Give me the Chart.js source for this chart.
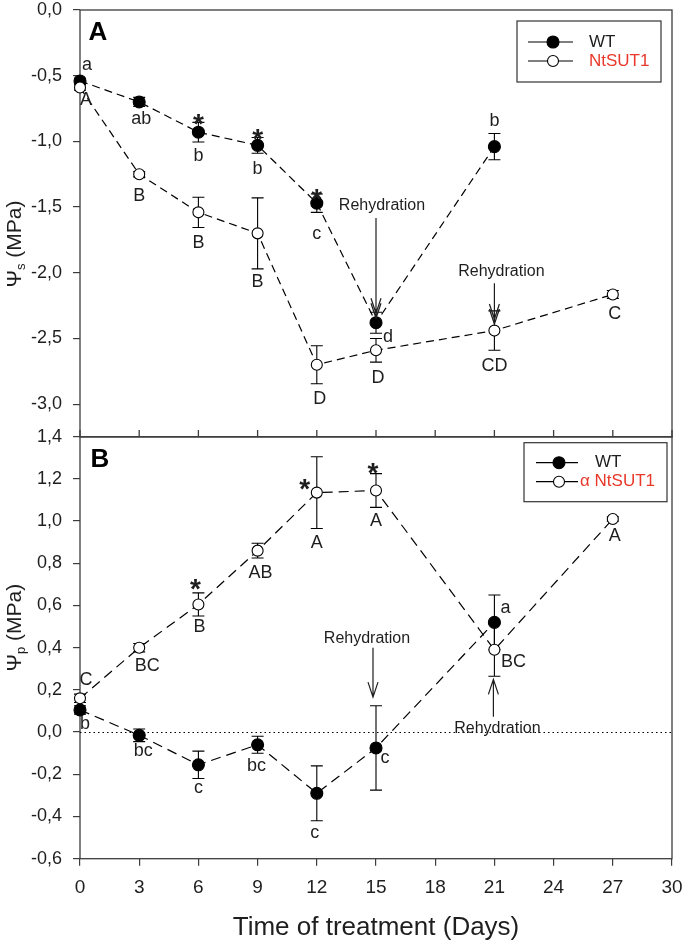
<!DOCTYPE html>
<html>
<head>
<meta charset="utf-8">
<script src="https://cdn.jsdelivr.net/npm/chart.js@4.4.1/dist/chart.umd.min.js"></script>
<style>
    body { margin: 0; background: #fff; }
    #wrap { position: relative; width: 685px; height: 949px; }
    canvas { position: absolute; left: 0; }
    #chartA { top: 0; }
    #chartB { top: 420px; }
</style>
</head>
<body>
<div id="wrap">
    <canvas id="chartA" width="685" height="447"></canvas>
    <canvas id="chartB" width="685" height="529"></canvas>
</div>
<script>
// sampling days and x ticks
const days = [0, 3, 6, 9, 12, 15, 21, 27];
const xTickValues = [0, 3, 6, 9, 12, 15, 18, 21, 24, 27, 30];
const seriesNamesA = ["WT", "NtSUT1"];
const seriesNamesB = ["WT", "α NtSUT1"];

// A: osmotic potential (MPa)
const wtPsiS     = [-0.54, -0.70, -0.93, -1.03, -1.47, -2.38, -1.04, null];
const wtPsiSErr  = [0.02, 0.035, 0.075, 0.06, 0.07, 0.08, 0.10, null];
const sutPsiS    = [-0.59, -1.25, -1.54, -1.70, -2.70, -2.59, -2.44, -2.165];
const sutPsiSErr = [0.02, 0.02, 0.115, 0.27, 0.145, 0.09, 0.15, 0.03];

// B: turgor potential (MPa)
const wtPsiP     = [0.105, -0.015, -0.155, -0.06, -0.29, -0.075, 0.52, null];
const wtPsiPErr  = [0.02, 0.03, 0.065, 0.04, 0.13, 0.20, 0.13, null];
const sutPsiP    = [0.16, 0.40, 0.605, 0.86, 1.135, 1.145, 0.39, 1.01];
const sutPsiPErr = [0.02, 0.02, 0.055, 0.035, 0.17, 0.08, 0.125, 0.01];

// significance letters and stars
const wtLettersA  = ["a", "ab", "b", "b", "c", "d", "b", null];
const sutLettersA = ["A", "B", "B", "B", "D", "D", "CD", "C"];
const wtLettersB  = ["b", "bc", "c", "bc", "c", "c", "a", null];
const sutLettersB = ["C", "BC", "B", "AB", "A", "A", "BC", "A"];
const wtStarsA  = [0, 0, 1, 1, 1, 0, 0, 0];
const sutStarsB = [0, 0, 1, 0, 1, 1, 0, 0];
const rehydrationText = "Rehydration";

// ---- styles / placement (pixels) ----
const INK = "#000";
const AXIS = "#3c3c3c";
const TEXT = "#1e1e1e";
const RED = "#e8382a";
const FONT = "'Liberation Sans', Arial, sans-serif";

const wtLetterOffA  = [[7, -16], [2, 17], [0, 24], [0, 24], [0, 31], [12, 14], [0, -26]];
const sutLetterOffA = [[6, 13], [0, 22], [0, 31], [0, 49], [3, 34], [2, 28], [0, 35], [2, 20]];
const wtStarOffA    = [null, null, [0, -15], [0, -13], [0, -11], null, null, null];
const wtLetterOffB  = [[5, 14], [4, 16], [0, 23], [-1, 21], [-2, 40], [9, 10], [11, -14]];
const sutLetterOffB = [[6, -18], [8, 18], [1, 23], [3, 22], [0, 50], [0, 31], [19, 12], [2, 17]];
const sutStarOffB   = [null, null, [-3, -22], null, [-12, -11], [-3, -25], null, null];

Chart.defaults.font.family = FONT;
Chart.defaults.color = TEXT;

const pts = vals => days.map((d, i) => ({ x: d, y: vals[i] })).filter(p => p.y !== null);
const comma = v => (Math.abs(v) < 1e-9 ? 0 : v).toFixed(1).replace(".", ",");

// keep the plot area where the layout padding puts it
function noLabelPadding(s) {
    s.paddingTop = 0;
    s.paddingBottom = 0;
    s.paddingLeft = 0;
    s.paddingRight = 0;
}

function seriesStyle(filled, dash) {
    return {
        borderColor: INK,
        borderWidth: 1.2,
        borderDash: dash,
        pointRadius: filled ? 6 : 5.5,
        pointBackgroundColor: filled ? INK : "#fff",
        pointBorderColor: INK,
        pointBorderWidth: 1.1,
        tension: 0,
        fill: false,
        clip: false
    };
}

function drawArrow(ctx, px, y1, y2, heads) {
    const dir = Math.sign(y2 - y1);
    ctx.beginPath();
    ctx.moveTo(px, y1);
    ctx.lineTo(px, y2);
    for (let k = 0; k < heads; k++) {
        const yt = y2 - dir * k * 5;
        ctx.moveTo(px - 5, yt - dir * 15);
        ctx.lineTo(px, yt);
        ctx.lineTo(px + 5, yt - dir * 15);
    }
    ctx.stroke();
}

function drawYTitle(ctx, sub, bx, cy) {
    const big = "21px " + FONT, small = "13px " + FONT;
    ctx.save();
    ctx.translate(bx, cy);
    ctx.rotate(-Math.PI / 2);
    ctx.font = big;
    const w1 = ctx.measureText("Ψ").width;
    const w3 = ctx.measureText(" (MPa)").width;
    ctx.font = small;
    const w2 = ctx.measureText(sub).width;
    let sx = -(w1 + w2 + w3) / 2;
    ctx.textAlign = "left";
    ctx.textBaseline = "alphabetic";
    ctx.fillStyle = TEXT;
    ctx.font = big; ctx.fillText("Ψ", sx, 0); sx += w1;
    ctx.font = small; ctx.fillText(sub, sx, 4); sx += w2;
    ctx.font = big; ctx.fillText(" (MPa)", sx, 0);
    ctx.restore();
}

// per panel decoration (not passed through chart options)
const panels = {
    chartA: {
        tag: "A", tagPos: [18, 23], sub: "s", titleY: 234, innerTicks: true, zeroLine: false,
        errors: [[wtPsiS, wtPsiSErr], [sutPsiS, sutPsiSErr]],
        letters: [[wtLettersA, wtPsiS, wtLetterOffA], [sutLettersA, sutPsiS, sutLetterOffA]],
        stars: [[wtStarsA, wtPsiS, wtStarOffA]],
        arrows: [
            { day: 15, dx: 0, from: -1.584, to: -2.346, textAt: -1.485, textDx: 6, heads: 2 },
            { day: 21, dx: 0, from: -2.08, to: -2.39, textAt: -1.99, textDx: 7, heads: 2 }
        ],
        legend: { box: [155, 11, 144, 61], rows: [32, 51], line: [144, 99], marker: 119, text: [83, 83], names: seriesNamesA }
    },
    chartB: {
        tag: "B", tagPos: [20, 23], sub: "p", titleY: 191, innerTicks: false, zeroLine: true,
        errors: [[wtPsiP, wtPsiPErr], [sutPsiP, sutPsiPErr]],
        letters: [[wtLettersB, wtPsiP, wtLetterOffB], [sutLettersB, sutPsiP, sutLetterOffB]],
        stars: [[sutStarsB, sutPsiP, sutStarOffB]],
        arrows: [
            { day: 15, dx: -3, from: 0.40, to: 0.166, textAt: 0.441, textDx: -9, heads: 1 },
            { day: 21, dx: -1, from: 0.073, to: 0.25, textAt: 0.015, textDx: 3, heads: 1 }
        ],
        legend: { box: [148, 6, 143, 59], rows: [26, 45], line: [136, 94], marker: 113, text: [77, 92], names: seriesNamesB }
    }
};

const decor = {
    id: "decor",
    beforeDatasetsDraw(chart) {
        const p = panels[chart.canvas.id];
        const { ctx, chartArea: a, scales: { x, y } } = chart;
        ctx.save();
        // frame
        ctx.strokeStyle = AXIS;
        ctx.lineWidth = 1.3;
        ctx.strokeRect(a.left, a.top, a.right - a.left, a.bottom - a.top);
        if (p.innerTicks) {
            ctx.beginPath();
            xTickValues.forEach(v => {
                const px = x.getPixelForValue(v);
                ctx.moveTo(px, a.bottom);
                ctx.lineTo(px, a.bottom - 7);
            });
            ctx.stroke();
        }
        if (p.zeroLine) {
            const y0 = Math.round(y.getPixelForValue(0)) + 0.5;
            ctx.strokeStyle = INK;
            ctx.lineWidth = 1;
            ctx.setLineDash([1.5, 3]);
            ctx.beginPath();
            ctx.moveTo(a.left, y0);
            ctx.lineTo(a.right, y0);
            ctx.stroke();
            ctx.setLineDash([]);
        }
        // error bars
        ctx.strokeStyle = INK;
        ctx.lineWidth = 1.1;
        p.errors.forEach(([vals, errs]) => {
            vals.forEach((v, i) => {
                if (v === null || !errs[i]) return;
                const px = x.getPixelForValue(days[i]);
                const hi = y.getPixelForValue(v + errs[i]);
                const lo = y.getPixelForValue(v - errs[i]);
                ctx.beginPath();
                ctx.moveTo(px, hi); ctx.lineTo(px, lo);
                ctx.moveTo(px - 6, hi); ctx.lineTo(px + 6, hi);
                ctx.moveTo(px - 6, lo); ctx.lineTo(px + 6, lo);
                ctx.stroke();
            });
        });
        ctx.restore();
    },
    afterDraw(chart) {
        const p = panels[chart.canvas.id];
        const { ctx, chartArea: a, scales: { x, y } } = chart;
        ctx.save();

        // panel tag
        ctx.fillStyle = "#000";
        ctx.font = "bold 26px " + FONT;
        ctx.textAlign = "center";
        ctx.textBaseline = "middle";
        ctx.fillText(p.tag, a.left + p.tagPos[0], a.top + p.tagPos[1]);

        drawYTitle(ctx, p.sub, 21, a.top + p.titleY);

        // letters
        ctx.fillStyle = TEXT;
        ctx.font = "18px " + FONT;
        ctx.textAlign = "center";
        ctx.textBaseline = "middle";
        p.letters.forEach(([txt, vals, offs]) => {
            txt.forEach((t, i) => {
                if (!t || vals[i] === null) return;
                ctx.fillText(t, x.getPixelForValue(days[i]) + offs[i][0], y.getPixelForValue(vals[i]) + offs[i][1]);
            });
        });

        // stars
        ctx.font = "bold 28px " + FONT;
        ctx.textBaseline = "alphabetic";
        p.stars.forEach(([flags, vals, offs]) => {
            flags.forEach((f, i) => {
                if (!f) return;
                ctx.fillText("*", x.getPixelForValue(days[i]) + offs[i][0], y.getPixelForValue(vals[i]) + offs[i][1] + 16);
            });
        });

        // rehydration arrows
        ctx.strokeStyle = TEXT;
        ctx.lineWidth = 1.2;
        ctx.font = "16px " + FONT;
        ctx.textBaseline = "middle";
        p.arrows.forEach(r => {
            const px = x.getPixelForValue(r.day) + r.dx;
            drawArrow(ctx, px, y.getPixelForValue(r.from), y.getPixelForValue(r.to), r.heads);
            ctx.fillText(rehydrationText, x.getPixelForValue(r.day) + r.textDx, y.getPixelForValue(r.textAt));
        });

        // legend
        const lg = p.legend;
        ctx.strokeStyle = "#333";
        ctx.lineWidth = 1.2;
        ctx.strokeRect(a.right - lg.box[0], a.top + lg.box[1], lg.box[2], lg.box[3]);
        ctx.font = "17px " + FONT;
        ctx.textAlign = "left";
        lg.rows.forEach((ry, k) => {
            const yy = a.top + ry;
            ctx.strokeStyle = INK;
            ctx.lineWidth = 1.2;
            ctx.beginPath();
            ctx.moveTo(a.right - lg.line[0], yy);
            ctx.lineTo(a.right - lg.line[1], yy);
            ctx.stroke();
            ctx.beginPath();
            ctx.arc(a.right - lg.marker, yy, k === 0 ? 6 : 5.5, 0, Math.PI * 2);
            ctx.fillStyle = k === 0 ? INK : "#fff";
            ctx.fill();
            ctx.lineWidth = 1.1;
            ctx.stroke();
            ctx.fillStyle = k === 0 ? TEXT : RED;
            ctx.fillText(lg.names[k], a.right - lg.text[k], yy);
        });

        ctx.restore();
    }
};

const yTickStyle = {
    callback: v => comma(v),
    font: { size: 18 },
    color: TEXT,
    padding: 11
};
const yGrid = { drawOnChartArea: false, tickLength: 7, color: AXIS, lineWidth: 1.2 };

// panel A
new Chart(document.getElementById("chartA"), {
    type: "line",
    data: {
        datasets: [
            { label: seriesNamesA[1], data: pts(sutPsiS), ...seriesStyle(false, [8, 5]) },
            { label: seriesNamesA[0], data: pts(wtPsiS), ...seriesStyle(true, [8, 5]) }
        ]
    },
    options: {
        responsive: false,
        animation: false,
        layout: { padding: { top: 10, right: 13, bottom: 10, left: 0 } },
        plugins: { legend: { display: false }, tooltip: { enabled: false } },
        scales: {
            x: { type: "linear", min: 0, max: 30, display: false },
            y: {
                min: -3.25,
                max: 0,
                afterBuildTicks: s => {
                    s.ticks = s.ticks.filter(t => Math.abs(t.value * 2 - Math.round(t.value * 2)) < 1e-6);
                },
                afterFit: s => { s.width = 80; noLabelPadding(s); },
                ticks: { ...yTickStyle, stepSize: 0.5 },
                grid: yGrid,
                border: { display: false }
            }
        }
    },
    plugins: [decor]
});

// panel B
new Chart(document.getElementById("chartB"), {
    type: "line",
    data: {
        datasets: [
            { label: seriesNamesB[1], data: pts(sutPsiP), ...seriesStyle(false, [10, 6]) },
            { label: seriesNamesB[0], data: pts(wtPsiP), ...seriesStyle(true, [10, 6]) }
        ]
    },
    options: {
        responsive: false,
        animation: false,
        layout: { padding: { top: 16.7, right: 13, bottom: 0, left: 0 } },
        plugins: { legend: { display: false }, tooltip: { enabled: false } },
        scales: {
            x: {
                type: "linear",
                min: 0,
                max: 30,
                afterBuildTicks: s => { s.ticks = xTickValues.map(v => ({ value: v })); },
                afterFit: s => { s.height = 90.3; noLabelPadding(s); },
                ticks: { font: { size: 19 }, color: TEXT, padding: 11, maxRotation: 0, autoSkip: false },
                grid: { drawOnChartArea: false, tickLength: 7, color: AXIS, lineWidth: 1.2 },
                border: { display: false },
                title: {
                    display: true,
                    text: "Time of treatment (Days)",
                    font: { size: 26 },
                    color: TEXT,
                    padding: { top: 0, bottom: 6 }
                }
            },
            y: {
                min: -0.6,
                max: 1.4,
                afterFit: s => { s.width = 80; noLabelPadding(s); },
                ticks: { ...yTickStyle, stepSize: 0.2 },
                grid: yGrid,
                border: { display: false }
            }
        }
    },
    plugins: [decor]
});
</script>
</body>
</html>
